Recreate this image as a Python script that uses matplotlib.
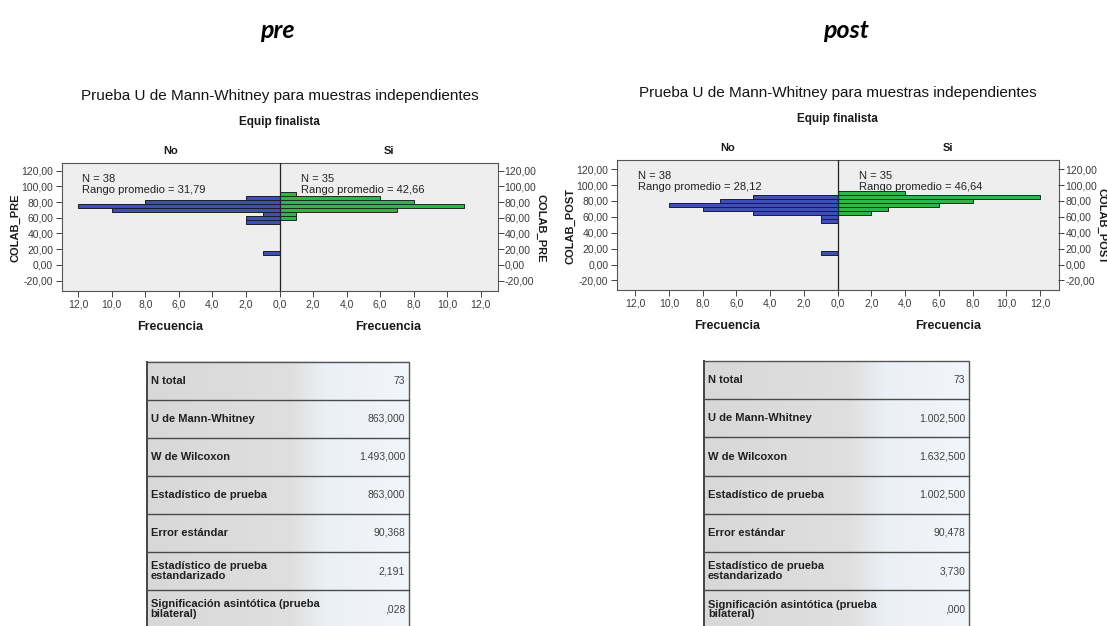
import numpy as np
import matplotlib
matplotlib.use("Agg")
import matplotlib.pyplot as plt
from matplotlib.colors import LinearSegmentedColormap

W, H = 1107, 626

# COLAB score classes (mid-points, class width 5)
bin_mid = [15, 20, 25, 30, 35, 40, 45, 50, 55, 60, 65, 70, 75, 80, 85, 90]
bin_width = 5

# frequencies per class, group "No" / "Si" of Equip finalista
pre_no = [1, 0, 0, 0, 0, 0, 0, 0, 2, 2, 1, 10, 12, 8, 2, 0]
pre_si = [0, 0, 0, 0, 0, 0, 0, 0, 0, 1, 1, 7, 11, 8, 6, 1]
post_no = [1, 0, 0, 0, 0, 0, 0, 0, 1, 1, 5, 8, 10, 7, 5, 0]
post_si = [0, 0, 0, 0, 0, 0, 0, 0, 0, 0, 2, 3, 6, 8, 12, 4]

pre_rank = [31.79, 42.66]
post_rank = [28.12, 46.64]

y_ticks = [-20, 0, 20, 40, 60, 80, 100, 120]
x_ticks = [-12, -10, -8, -6, -4, -2, 0, 2, 4, 6, 8, 10, 12]

stat_names = ["N total", "U de Mann-Whitney", "W de Wilcoxon",
              "Estadístico de prueba", "Error estándar",
              "Estadístico de prueba\nestandarizado",
              "Significación asintótica (prueba\nbilateral)"]
pre_stats = ["73", "863,000", "1.493,000", "863,000", "90,368", "2,191", ",028"]
post_stats = ["73", "1.002,500", "1.632,500", "1.002,500", "90,478", "3,730", ",000"]

BLUE = "#3d4fb0"
GREEN = "#30b54a"
SANS = ["Liberation Sans", "DejaVu Sans"]
NARROW = ["Liberation Sans Narrow", "Liberation Sans", "DejaVu Sans"]


def fx(x):
    return x / W


def fy(y):
    return 1 - y / H


def comma(v, nd):
    return f"{v:.{nd}f}".replace(".", ",")


def draw_panel(fig, left, top, right, bottom, xmax, ylim, no, si, ranks, varname):
    ax = fig.add_axes([fx(left), fy(bottom), fx(right - left), (bottom - top) / H])
    ax.set_facecolor("#eeeeee")
    mids = np.array(bin_mid, dtype=float)
    ax.barh(mids, -np.array(no), height=bin_width, color=BLUE,
            edgecolor="#1c1c2c", linewidth=0.7, zorder=2)
    ax.barh(mids, si, height=bin_width, color=GREEN,
            edgecolor="#1c2c1c", linewidth=0.7, zorder=2)
    ax.axvline(0, color="#222222", lw=0.9, zorder=3)
    ax.set_xlim(-xmax, xmax)
    ax.set_ylim(*ylim)

    ax.set_xticks(x_ticks)
    ax.set_xticklabels([comma(abs(t), 1) for t in x_ticks])
    ax.set_yticks(y_ticks)
    ax.set_yticklabels([comma(t, 2) for t in y_ticks])
    ax.tick_params(length=4, width=0.7, color="#444444", labelsize=7.5,
                   labelcolor="#3c3c3c", pad=2)
    for lbl in ax.get_xticklabels() + ax.get_yticklabels():
        lbl.set_family(SANS)
    for s in ax.spines.values():
        s.set_color("#555555")
        s.set_linewidth(0.8)

    axr = ax.twinx()
    axr.set_ylim(*ylim)
    axr.set_yticks(y_ticks)
    axr.set_yticklabels([comma(t, 2) for t in y_ticks])
    axr.tick_params(length=4, width=0.7, color="#444444", labelsize=7.5,
                    labelcolor="#3c3c3c", pad=1)
    for lbl in axr.get_yticklabels():
        lbl.set_family(SANS)
    for s in axr.spines.values():
        s.set_visible(False)

    # group annotations
    txt_kw = dict(fontsize=8, family=SANS, color="#222222", va="center",
                  linespacing=1.05, transform=ax.transData, zorder=4)
    ytxt = ylim[1] - 0.165 * (ylim[1] - ylim[0])
    ax.text(-xmax + 1.25, ytxt,
            f"N = {sum(no)}\nRango promedio = {comma(ranks[0], 2)}", **txt_kw)
    ax.text(1.27, ytxt,
            f"N = {sum(si)}\nRango promedio = {comma(ranks[1], 2)}", **txt_kw)

    cx = (left + right) / 2
    mid = left + (right - left) / 2
    fig.text(fx(cx), fy(top - 67), "Prueba U de Mann-Whitney para muestras independientes",
             ha="center", va="center", fontsize=11, family=SANS, color="#141414")
    fig.text(fx(cx), fy(top - 41), "Equip finalista", ha="center", va="center",
             fontsize=8.5, family=NARROW, weight="bold", color="#1a1a1a")
    for xc, name in [((left + mid) / 2, "No"), ((mid + right) / 2, "Si")]:
        fig.text(fx(xc), fy(top - 12), name, ha="center", va="center",
                 fontsize=8, family=NARROW, weight="bold", color="#1a1a1a")
        fig.text(fx(xc), fy(bottom + 36), "Frecuencia", ha="center", va="center",
                 fontsize=9, family=NARROW, weight="bold", color="#1a1a1a")
    ycen = (top + bottom) / 2 + 1
    fig.text(fx(left - 46.5), fy(ycen), varname, rotation=90, ha="center", va="center",
             fontsize=8, family=NARROW, weight="bold", color="#1a1a1a")
    fig.text(fx(right + 43.5), fy(ycen), varname, rotation=270, ha="center", va="center",
             fontsize=8, family=NARROW, weight="bold", color="#1a1a1a")
    return ax


def draw_table(bg, left, right, top, row_h, values):
    n = len(stat_names)
    bottom = top + n * row_h
    cmap = LinearSegmentedColormap.from_list(
        "cell", [(0.0, "#d8d8d8"), (0.55, "#dfdfdf"), (0.68, "#ebf0f6"), (1.0, "#f3f6fa")])
    grad = np.linspace(0, 1, 256)[None, :]
    bg.imshow(grad, cmap=cmap, aspect="auto", extent=(left, right, bottom, top),
              interpolation="bilinear", zorder=1)
    bg.plot([left, right, right], [top, top, bottom], color="#555555", lw=1.0, zorder=3)
    bg.plot([left, left], [top, bottom], color="#444444", lw=1.4, zorder=3)
    for i in range(1, n):
        y = top + i * row_h
        bg.plot([left, right], [y, y], color="#4a4a4a", lw=1.0, zorder=3)
    for i, (name, val) in enumerate(zip(stat_names, values)):
        yc = top + (i + 0.5) * row_h
        bg.text(left + 4, yc, name, ha="left", va="center", fontsize=8, weight="bold",
                family=SANS, color="#202020", linespacing=0.95, zorder=4)
        bg.text(right - 4, yc, val, ha="right", va="center", fontsize=7.5,
                family=SANS, color="#404040", zorder=4)


fig = plt.figure(figsize=(W / 100, H / 100), dpi=100)
fig.patch.set_facecolor("white")

bg = fig.add_axes([0, 0, 1, 1], zorder=-1)
bg.set_xlim(0, W)
bg.set_ylim(H, 0)
bg.axis("off")

fig.text(fx(277), fy(30), "pre", ha="center", va="center", fontsize=18,
         family=["Lato", "Liberation Sans"], weight="bold", style="italic")
fig.text(fx(846), fy(30), "post", ha="center", va="center", fontsize=18,
         family=["Lato", "Liberation Sans"], weight="bold", style="italic")

draw_panel(fig, 61.5, 163.3, 497.5, 290.7, 13.0, (-33, 129.5),
           pre_no, pre_si, pre_rank, "COLAB_PRE")
draw_panel(fig, 616.7, 160.0, 1058.5, 290.0, 13.1, (-32, 131.5),
           post_no, post_si, post_rank, "COLAB_POST")

draw_table(bg, 146.7, 409.3, 361.5, 38.1, pre_stats)
draw_table(bg, 704.0, 969.3, 361.0, 38.2, post_stats)

fig.savefig("out.png", dpi=100, facecolor="white")
